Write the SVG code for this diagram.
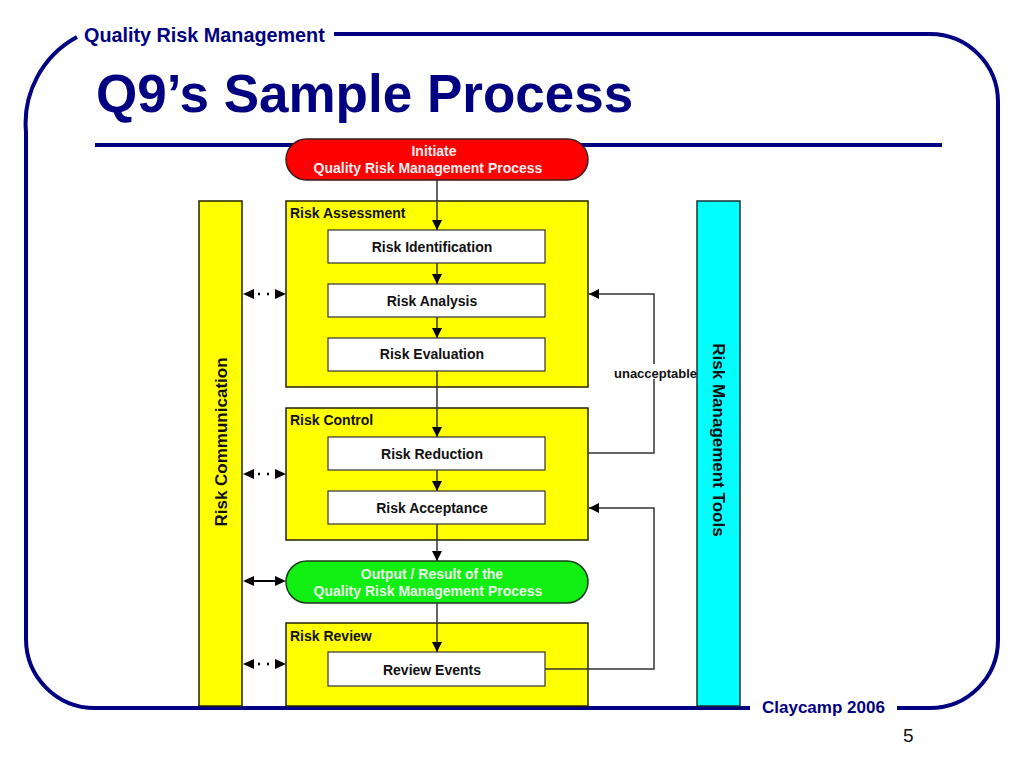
<svg xmlns="http://www.w3.org/2000/svg" width="1024" height="768" viewBox="0 0 1024 768">
<defs>
<style>
.frame{fill:none;stroke:#000080;stroke-width:4}
.navy{fill:#000080;font-family:"Liberation Sans",Arial,sans-serif;font-weight:bold}
.ybox{fill:#ffff00;stroke:#222200;stroke-width:1.5}
.wbox{fill:#ffffff;stroke:#333333;stroke-width:1.2}
.lbl{font-family:"Liberation Sans",Arial,sans-serif;font-weight:bold;font-size:14px;fill:#111}
.ctr{text-anchor:middle}
.con{fill:none;stroke:#333;stroke-width:1.5}
.head{fill:#000}
</style>
<marker id="ah" viewBox="0 0 10 10" refX="10" refY="5" markerWidth="10" markerHeight="10" markerUnits="userSpaceOnUse" orient="auto">
<path d="M0,0 L10,5 L0,10 z" fill="#000"/>
</marker>
</defs>
<rect width="1024" height="768" fill="#ffffff"/>

<g id="frame">
<path class="frame" d="M334,34 L930,34 A68,68 0 0 1 998,102 L998,640 A68,68 0 0 1 930,708 L897,708"/>
<path class="frame" d="M750,708 L95,708 A69,69 0 0 1 26,639 L26,132 A98,98 0 0 1 77,37"/>
<line x1="95" y1="145" x2="942" y2="145" stroke="#000080" stroke-width="4"/>
<text class="navy" x="84" y="42" font-size="19.8">Quality Risk Management</text>
<text class="navy" x="96" y="112" font-size="53">Q9’s Sample Process</text>
<text class="navy" x="762" y="713" font-size="17">Claycamp 2006</text>
<text x="903" y="742" font-family="Liberation Sans,Arial,sans-serif" font-size="19" fill="#111">5</text>
</g>

<g id="risk-communication">
<rect class="ybox" x="199" y="201" width="43" height="505"/>
<text class="lbl ctr" transform="translate(227,442) rotate(-90)" style="font-size:17px">Risk Communication</text>
</g>

<g id="risk-management-tools">
<rect x="697" y="201" width="43" height="505" fill="#00ffff" stroke="#1a3333" stroke-width="1.5"/>
<text class="lbl ctr" transform="translate(713,440) rotate(90)" style="font-size:17px">Risk Management Tools</text>
</g>

<g id="initiate">
<rect x="286" y="139" width="302" height="41" rx="20.5" fill="#ff0000" stroke="#3a1a1a" stroke-width="1.5"/>
<text class="lbl ctr" x="434" y="156" style="fill:#f4eeee">Initiate</text>
<text class="lbl ctr" x="428" y="173" style="fill:#f4eeee">Quality Risk Management Process</text>
</g>

<g id="risk-assessment">
<rect class="ybox" x="286" y="201" width="302" height="186"/>
<text class="lbl" x="290" y="218">Risk Assessment</text>
</g>
<g id="risk-identification">
<rect class="wbox" x="328" y="230" width="217" height="33"/>
<text class="lbl ctr" x="432" y="252">Risk Identification</text>
</g>
<g id="risk-analysis">
<rect class="wbox" x="328" y="284" width="217" height="33"/>
<text class="lbl ctr" x="432" y="306">Risk Analysis</text>
</g>
<g id="risk-evaluation">
<rect class="wbox" x="328" y="338" width="217" height="33"/>
<text class="lbl ctr" x="432" y="359">Risk Evaluation</text>
</g>

<g id="risk-control">
<rect class="ybox" x="286" y="408" width="302" height="132"/>
<text class="lbl" x="290" y="425">Risk Control</text>
</g>
<g id="risk-reduction">
<rect class="wbox" x="328" y="437" width="217" height="33"/>
<text class="lbl ctr" x="432" y="459">Risk Reduction</text>
</g>
<g id="risk-acceptance">
<rect class="wbox" x="328" y="491" width="217" height="33"/>
<text class="lbl ctr" x="432" y="513">Risk Acceptance</text>
</g>

<g id="output">
<rect x="286" y="561" width="302" height="42" rx="21" fill="#11ee11" stroke="#1a3a1a" stroke-width="1.5"/>
<text class="lbl ctr" x="432" y="579" style="fill:#e8f4e8">Output / Result of the</text>
<text class="lbl ctr" x="428" y="596" style="fill:#e8f4e8">Quality Risk Management Process</text>
</g>

<g id="risk-review">
<rect class="ybox" x="286" y="623" width="302" height="83"/>
<text class="lbl" x="290" y="641">Risk Review</text>
</g>
<g id="review-events">
<rect class="wbox" x="328" y="652" width="217" height="34"/>
<text class="lbl ctr" x="432" y="675">Review Events</text>
</g>

<g id="connectors">
<line class="con" x1="437" y1="180" x2="437" y2="230" marker-end="url(#ah)"/>
<line class="con" x1="437" y1="263" x2="437" y2="284" marker-end="url(#ah)"/>
<line class="con" x1="437" y1="317" x2="437" y2="338" marker-end="url(#ah)"/>
<line class="con" x1="437" y1="371" x2="437" y2="437" marker-end="url(#ah)"/>
<line class="con" x1="437" y1="470" x2="437" y2="491" marker-end="url(#ah)"/>
<line class="con" x1="437" y1="524" x2="437" y2="561" marker-end="url(#ah)"/>
<line class="con" x1="437" y1="603" x2="437" y2="652" marker-end="url(#ah)"/>
<polyline class="con" points="588,453 654,453 654,294 589,294" marker-end="url(#ah)"/>
<polyline class="con" points="545,669 654,669 654,508 589,508" marker-end="url(#ah)"/>
<rect x="614" y="364" width="81" height="15" fill="#ffffff"/>
<text class="lbl" x="614" y="378" style="font-size:13px">unacceptable</text>
<line class="con" x1="252" y1="294" x2="276" y2="294" stroke-dasharray="2 7" stroke-dashoffset="-6" style="stroke:#000;stroke-width:2.5"/>
<path class="head" d="M243,294 L254,289 L254,299 z M286,294 L275,289 L275,299 z"/>
<line class="con" x1="252" y1="474" x2="276" y2="474" stroke-dasharray="2 7" stroke-dashoffset="-6" style="stroke:#000;stroke-width:2.5"/>
<path class="head" d="M243,474 L254,469 L254,479 z M286,474 L275,469 L275,479 z"/>
<line class="con" x1="252" y1="664" x2="276" y2="664" stroke-dasharray="2 7" stroke-dashoffset="-6" style="stroke:#000;stroke-width:2.5"/>
<path class="head" d="M243,664 L254,659 L254,669 z M286,664 L275,659 L275,669 z"/>
<line class="con" x1="250" y1="581" x2="278" y2="581" style="stroke:#000;stroke-width:2"/>
<path class="head" d="M243,581 L254,576 L254,586 z M286,581 L275,576 L275,586 z"/>
</g>
</svg>
